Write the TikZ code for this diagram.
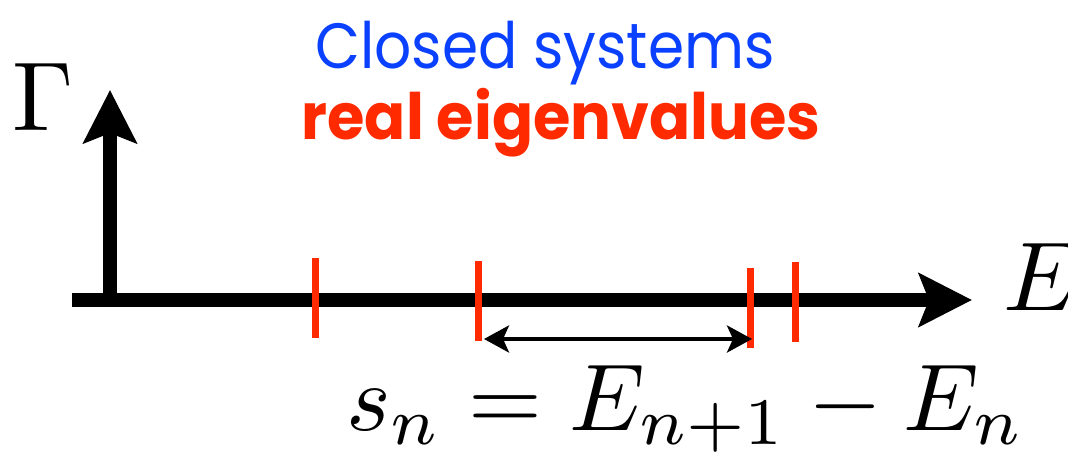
\documentclass[tikz,border=0pt]{standalone}
\usepackage{fontspec}
\newfontfamily\titlefont{Poppins}
\usetikzlibrary{arrows.meta}
\definecolor{tblue}{RGB}{10,64,255}
\definecolor{tred}{RGB}{255,42,0}
\newcommand{\hugemath}[2][9.8]{\scalebox{#1}{$#2$}}
\begin{document}
\begin{tikzpicture}[x=1pt,y=-1pt,
  axis/.style={line width=14pt,-{Stealth[length=53pt,width=53pt,inset=10pt]}},
  tickbar/.style={draw=none,fill=tred,minimum width=7pt,minimum height=80pt,inner sep=0pt},
  dbl/.style={line width=4pt,{Stealth[length=25pt,width=27pt,inset=6pt]}-{Stealth[length=25pt,width=27pt,inset=6pt]}},
  bigmath/.style={inner sep=0pt},
  titleA/.style={inner sep=0pt,text=tblue,font=\titlefont\fontsize{64}{70}\selectfont},
  titleB/.style={inner sep=0pt,text=tred,font=\titlefont\bfseries\fontsize{64}{70}\selectfont}]
\useasboundingbox (0,0) rectangle (1068,452);
% axes
\coordinate (xs) at (72,300);
\coordinate (xe) at (972,300);
\coordinate (ys) at (110,307);
\coordinate (ye) at (110,90);
\draw[axis] (xs) -- (xe);
\draw[axis] (ys) -- (ye);
% ticks
\node[tickbar] (t1) at (315,298) {};
\node[tickbar] (t2) at (478,301) {};
\node[tickbar] (t3) at (750,308) {};
\node[tickbar] (t4) at (795,302) {};
% spacing arrow
\coordinate (sa) at (484,339);
\coordinate (sb) at (752,339);
\draw[dbl] (sa) -- (sb);
% labels
\node[bigmath] (gam) at (43,97) {\hugemath{\Gamma}};
\node[bigmath,anchor=west] (elab) at (1003,277) {\hugemath{E}};
\node[bigmath,anchor=base west] (form) at (346,430) {\hugemath[9.5]{s_n = E_{n+1} - E_n}};
\node[titleA,anchor=base] (closed) at (545,68) {\scalebox{0.91}[1]{Closed systems}};
\node[titleB,anchor=base] (real) at (561,139) {\scalebox{0.947}[1]{real eigenvalues}};
\end{tikzpicture}
\end{document}
